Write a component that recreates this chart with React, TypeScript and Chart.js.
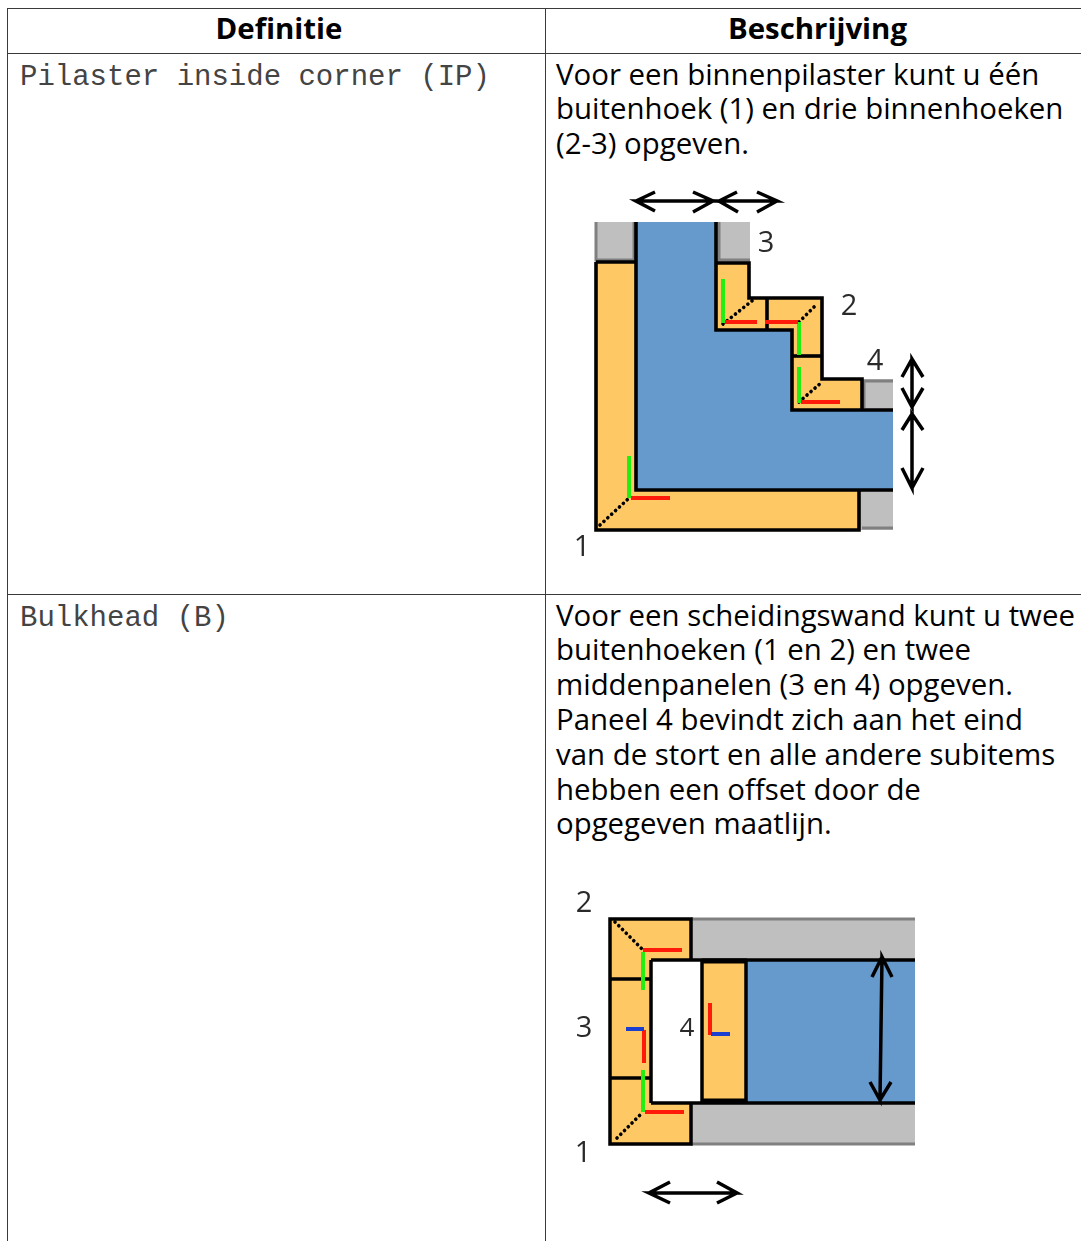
import React, { useEffect, useRef } from "react";
import { Chart, registerables } from "chart.js";

Chart.register(...registerables);

type P = [number, number];
type Mark = { pts: P[]; line?: string; fill?: string; w?: number; dash?: number[] };

const headers = ["Definitie", "Beschrijving"];
const definitions = ["Pilaster inside corner (IP)", "Bulkhead (B)"];
const descriptionOne = [
  "Voor een binnenpilaster kunt u één",
  "buitenhoek (1) en drie binnenhoeken",
  "(2-3) opgeven.",
];
const descriptionTwo = [
  "Voor een scheidingswand kunt u twee",
  "buitenhoeken (1 en 2) en twee",
  "middenpanelen (3 en 4) opgeven.",
  "Paneel 4 bevindt zich aan het eind",
  "van de stort en alle andere subitems",
  "hebben een offset door de",
  "opgegeven maatlijn.",
];

const ORANGE = "#fec965";
const BLUE = "#6699cc";
const GRAY = "#bfbfbf";
const EDGE = "#808080";
const K = "#000000";
const RED = "#ff1a0a";
const GREEN = "#22ee11";
const NAVY = "#1a3fd0";

// ---- Pilaster diagram, values on its x / y axes
const pilasterGray: P[][] = [
  [[595, 222], [636, 222], [636, 262], [595, 262], [595, 222]],
  [[716, 222], [750, 222], [750, 262], [716, 262], [716, 222]],
  [[862, 379], [893, 379], [893, 410], [862, 410], [862, 379]],
  [[859, 490], [893, 490], [893, 530], [859, 530], [859, 490]],
];
const pilasterGrayEdges: P[][] = [
  [[596, 222], [596, 260], [634, 260], [634, 222]],
  [[719, 222], [719, 260], [750, 260]],
  [[864, 408], [864, 381], [893, 381]],
  [[862, 528], [893, 528]],
];
const pilasterOrange: P[][] = [
  [[596, 262], [636, 262], [636, 490], [859, 490], [859, 530], [596, 530], [596, 262]],
  [[716, 263], [749, 263], [749, 298], [767, 298], [767, 330], [716, 330], [716, 263]],
  [[767, 298], [822, 298], [822, 356], [792, 356], [792, 330], [767, 330], [767, 298]],
  [[792, 356], [822, 356], [822, 379], [862, 379], [862, 410], [792, 410], [792, 356]],
];
const pilasterBlue: P[] = [
  [636, 222], [716, 222], [716, 330], [792, 330], [792, 410], [893, 410], [893, 490], [636, 490], [636, 222],
];
const pilasterOutlines: P[][] = [
  [[636, 222], [636, 490], [893, 490]],
  [[716, 222], [716, 330], [792, 330], [792, 410], [893, 410]],
  [[596, 262], [596, 530], [859, 530], [859, 490]],
  [[596, 262], [636, 262]],
  [[716, 263], [749, 263], [749, 298], [822, 298], [822, 379], [862, 379], [862, 410]],
  [[767, 298], [767, 330]],
  [[792, 356], [822, 356]],
];
const pilasterDots: P[][] = [
  [[600, 525], [628, 499]],
  [[723, 324], [753, 300]],
  [[799, 322], [817, 304]],
  [[799, 402], [822, 382]],
];
const pilasterGreen: P[][] = [
  [[629, 456], [629, 498]],
  [[723, 279], [723, 323]],
  [[799, 322], [799, 355]],
  [[799, 367], [799, 403]],
];
const pilasterRed: P[][] = [
  [[631, 498], [670, 498]],
  [[725, 322], [757, 322]],
  [[765, 322], [798, 322]],
  [[801, 402], [840, 402]],
];
const pilasterArrows: P[][] = [
  [[655, 192], [636, 201], [655, 211], [636, 201], [713, 201], [693, 192], [713, 201], [693, 212]],
  [[737, 192], [719, 201], [738, 212], [719, 201], [777, 201], [757, 192], [777, 201], [757, 212]],
  [[902, 377], [912, 359], [923, 377], [912, 359], [912, 407], [902, 388], [912, 407], [923, 388]],
  [[902, 430], [912, 414], [923, 430], [912, 414], [912, 488], [902, 468], [912, 488], [923, 468]],
];
const pilasterLabels = [
  { t: "3", x: 766, y: 241, s: 29 },
  { t: "2", x: 849, y: 304, s: 29 },
  { t: "4", x: 875, y: 359, s: 29 },
  { t: "1", x: 582, y: 545, s: 29 },
];

// ---- Bulkhead diagram
const bulkheadGray: P[][] = [
  [[691, 919], [915, 919], [915, 960], [691, 960], [691, 919]],
  [[691, 1103], [915, 1103], [915, 1144], [691, 1144], [691, 1103]],
];
const bulkheadGrayEdges: P[][] = [
  [[691, 919], [915, 919]],
  [[691, 1144], [915, 1144]],
];
const bulkheadOrange: P[][] = [
  [[610, 919], [691, 919], [691, 960], [651, 960], [651, 1103], [691, 1103], [691, 1144], [610, 1144], [610, 919]],
  [[703, 963], [745, 963], [745, 1100], [703, 1100], [703, 963]],
];
const bulkheadWhite: P[] = [[651, 960], [702, 960], [702, 1103], [651, 1103], [651, 960]];
const bulkheadBlue: P[] = [[747, 960], [915, 960], [915, 1103], [747, 1103], [747, 960]];
const bulkheadOutlines: P[][] = [
  [[691, 960], [691, 919], [610, 919], [610, 1144], [691, 1144], [691, 1103]],
  [[651, 960], [651, 1103]],
  [[610, 979], [651, 979]],
  [[610, 1078], [651, 1078]],
  [[651, 960], [915, 960]],
  [[651, 1103], [915, 1103]],
  [[702, 960], [702, 1103]],
  [[746, 960], [746, 1103]],
];
const bulkheadThick: P[][] = [
  [[702, 961], [747, 961]],
  [[702, 1101], [747, 1101]],
];
const bulkheadDots: P[][] = [
  [[615, 922], [643, 950]],
  [[617, 1138], [643, 1112]],
];
const bulkheadRed: P[][] = [
  [[643, 950], [682, 950]],
  [[645, 1112], [684, 1112]],
  [[644, 1030], [644, 1063]],
  [[710, 1003], [710, 1035]],
];
const bulkheadGreen: P[][] = [
  [[643, 952], [643, 990]],
  [[643, 1070], [643, 1112]],
];
const bulkheadNavy: P[][] = [
  [[626, 1029], [644, 1029]],
  [[711, 1034], [730, 1034]],
];
const bulkheadArrows: P[][] = [
  [[872, 977], [882, 957], [892, 977], [882, 957], [880, 1100], [870, 1082], [880, 1100], [891, 1082]],
  [[670, 1182], [649, 1193], [670, 1203], [649, 1193], [737, 1193], [717, 1182], [737, 1193], [717, 1203]],
];
const bulkheadLabels = [
  { t: "2", x: 584, y: 901, s: 29 },
  { t: "3", x: 584, y: 1026, s: 29 },
  { t: "1", x: 583, y: 1151, s: 29 },
  { t: "4", x: 687, y: 1026, s: 26 },
];

const many = (list: P[][], o: Omit<Mark, "pts">): Mark[] => list.map((pts) => ({ pts, ...o }));
const DOT = [0.1, 5.2];

const pilasterMarks: Mark[] = [
  ...many(pilasterGray, { fill: GRAY }),
  ...many(pilasterGrayEdges, { line: EDGE, w: 3 }),
  ...many(pilasterOrange, { fill: ORANGE }),
  { pts: pilasterBlue, fill: BLUE },
  ...many(pilasterOutlines, { line: K, w: 3.6 }),
  ...many(pilasterDots, { line: K, w: 3.6, dash: DOT }),
  ...many(pilasterGreen, { line: GREEN, w: 4 }),
  ...many(pilasterRed, { line: RED, w: 4 }),
  ...many(pilasterArrows, { line: K, w: 3.5 }),
];
const bulkheadMarks: Mark[] = [
  ...many(bulkheadGray, { fill: GRAY }),
  ...many(bulkheadGrayEdges, { line: EDGE, w: 3 }),
  ...many(bulkheadOrange, { fill: ORANGE }),
  { pts: bulkheadWhite, fill: "#ffffff" },
  { pts: bulkheadBlue, fill: BLUE },
  ...many(bulkheadOutlines, { line: K, w: 3.5 }),
  ...many(bulkheadThick, { line: K, w: 5 }),
  ...many(bulkheadDots, { line: K, w: 3.6, dash: DOT }),
  ...many(bulkheadGreen, { line: GREEN, w: 4 }),
  ...many(bulkheadRed, { line: RED, w: 4 }),
  ...many(bulkheadNavy, { line: NAVY, w: 4 }),
  ...many(bulkheadArrows, { line: K, w: 3.5 }),
];

function Diagram({ marks, x0, x1, y0, y1 }: { marks: Mark[]; x0: number; x1: number; y0: number; y1: number }) {
  const ref = useRef<HTMLCanvasElement>(null);
  useEffect(() => {
    const chart = new Chart(ref.current!, {
      type: "scatter",
      data: {
        datasets: marks.map((m, i) => ({
          data: m.pts.map(([x, y]) => ({ x, y })),
          showLine: true,
          tension: 0,
          pointRadius: 0,
          pointHoverRadius: 0,
          borderColor: m.line ?? "transparent",
          borderWidth: m.line ? m.w ?? 3 : 0,
          borderDash: m.dash ?? [],
          borderCapStyle: m.dash ? "round" : "butt",
          borderJoinStyle: "miter",
          backgroundColor: m.fill ?? "transparent",
          fill: m.fill ? "shape" : false,
          clip: false,
          order: -i,
        })),
      },
      options: {
        animation: false,
        responsive: false,
        events: [],
        layout: { padding: 0 },
        plugins: {
          legend: { display: false },
          tooltip: { enabled: false },
          filler: { drawTime: "beforeDatasetDraw" },
        },
        scales: {
          x: { type: "linear", display: false, min: x0, max: x1 },
          y: { type: "linear", display: false, min: y0, max: y1, reverse: true },
        },
      },
    } as any);
    return () => chart.destroy();
  }, []);
  return (
    <canvas
      ref={ref}
      width={x1 - x0}
      height={y1 - y0}
      style={{ position: "absolute", left: x0, top: y0, width: x1 - x0, height: y1 - y0, filter: "blur(0.6px)" }}
    />
  );
}

const SANS = '"Open Sans", "Noto Sans", sans-serif';
const MONO = '"Liberation Mono", monospace';
const RULE = "#3a3a3a";
const LEFT = 7;
const COL = 545;
const ROWS = [8, 53, 594];
const LINE = 34.8;
const TEXT_SIZE = 29.4;

const abs = (left: number, top: number, width: number, height: number): React.CSSProperties => ({
  position: "absolute",
  left,
  top,
  width,
  height,
  background: RULE,
});

function Lines({ lines, top }: { lines: string[]; top: number }) {
  return (
    <div
      style={{
        position: "absolute",
        left: 556,
        top: top - LINE / 2,
        lineHeight: `${LINE}px`,
        fontFamily: SANS,
        fontSize: TEXT_SIZE,
        whiteSpace: "pre",
        color: "#000",
      }}
    >
      {lines.join("\n")}
    </div>
  );
}

function Labels({ items }: { items: { t: string; x: number; y: number; s: number }[] }) {
  return (
    <>
      {items.map((d, i) => (
        <div
          key={i}
          style={{
            position: "absolute",
            left: d.x - 12,
            width: 24,
            textAlign: "center",
            top: d.y - 17,
            height: 34,
            lineHeight: "34px",
            fontFamily: SANS,
            fontSize: d.s,
            color: "#2a2a2a",
            filter: "blur(0.4px)",
          }}
        >
          {d.t}
        </div>
      ))}
    </>
  );
}

export default function App() {
  useEffect(() => {
    document.body.style.margin = "0";
    document.body.style.background = "#fff";
  }, []);
  return (
    <div style={{ position: "relative", width: 1081, height: 1241, overflow: "hidden", background: "#fff" }}>
      {ROWS.map((y) => (
        <div key={y} style={abs(LEFT, y, 1081 - LEFT, 1)} />
      ))}
      <div style={abs(LEFT, 8, 1, 1233)} />
      <div style={abs(COL, 8, 1, 1233)} />
      {headers.map((h, i) => (
        <div
          key={h}
          style={{
            position: "absolute",
            left: i === 0 ? LEFT + 3 : COL,
            width: i === 0 ? COL - LEFT : 1090 - COL,
            top: 8,
            height: 40,
            lineHeight: "40px",
            textAlign: "center",
            fontFamily: SANS,
            fontWeight: 700,
            fontSize: TEXT_SIZE,
            color: "#000",
          }}
        >
          {h}
        </div>
      ))}
      {definitions.map((d, i) => (
        <div
          key={d}
          style={{
            position: "absolute",
            left: 20,
            top: [61, 602][i],
            height: 34,
            lineHeight: "34px",
            fontFamily: MONO,
            fontSize: 29,
            whiteSpace: "pre",
            color: "#444",
          }}
        >
          {d}
        </div>
      ))}
      <Lines lines={descriptionOne} top={74} />
      <Lines lines={descriptionTwo} top={615} />
      <Diagram marks={pilasterMarks} x0={570} x1={940} y0={180} y1={560} />
      <Diagram marks={bulkheadMarks} x0={570} x1={930} y0={890} y1={1220} />
      <Labels items={pilasterLabels} />
      <Labels items={bulkheadLabels} />
    </div>
  );
}
